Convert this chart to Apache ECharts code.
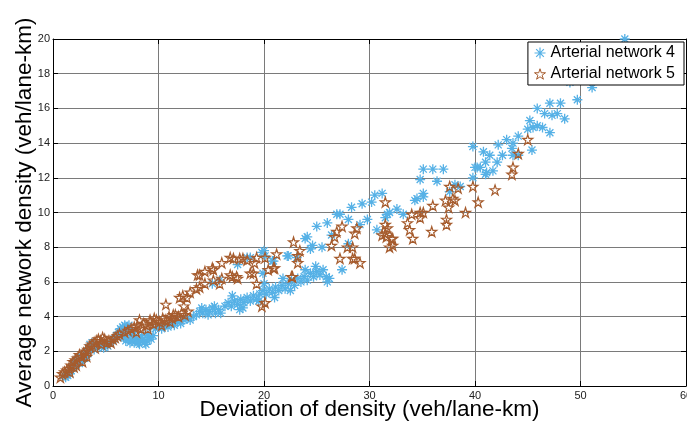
<!DOCTYPE html>
<html>
<head>
<meta charset="utf-8">
<script src="https://cdn.jsdelivr.net/npm/echarts@6/dist/echarts.min.js"></script>
<style>
  html, body { margin: 0; padding: 0; background: #fff; }
  #chart { width: 687px; height: 423px; }
</style>
</head>
<body>
<div id="chart"></div>
<script>
// tick values
const xTicks = [0, 10, 20, 30, 40, 50, 60]
const yTicks = [0, 2, 4, 6, 8, 10, 12, 14, 16, 18, 20]

const seriesNames = ['Arterial network 4', 'Arterial network 5']

// Arterial network 4 (blue asterisks), [deviation, density]
const network4 = [
  [1.1,0.6],[1.2,0.5],[1.3,0.7],[1.4,0.6],[1.5,0.8],[1.6,0.7],[1.7,0.9],[1.8,1.1],[1.9,1.0],[2.0,1.3],
  [2.1,1.2],[2.2,1.5],[2.3,1.4],[2.4,1.6],[2.5,1.3],[2.6,1.5],[2.7,1.7],[2.8,1.6],[2.9,1.8],[3.0,1.6],
  [3.1,1.9],[3.2,1.7],[3.3,2.0],[3.4,2.2],[3.5,2.4],[3.6,2.2],[3.7,2.5],[3.8,2.3],[3.9,2.1],[4.0,2.3],
  [4.2,2.2],[4.4,2.4],[4.6,2.3],[4.8,2.2],[5.0,2.4],[5.2,2.3],[5.4,2.5],[5.6,2.6],[5.8,2.7],[6.0,2.9],
  [6.2,3.1],[6.4,3.3],[6.6,3.4],[6.8,3.5],[7.0,3.3],[7.2,3.5],[6.5,3.0],[6.7,2.8],[6.9,2.6],[7.1,2.7],
  [7.3,2.5],[7.5,2.6],[7.7,2.5],[7.9,2.7],[8.1,2.5],[8.3,2.6],[8.5,2.7],[8.7,2.5],[8.9,2.6],[9.1,2.8],
  [9.3,2.7],[9.5,2.9],[7.4,2.9],[7.8,2.9],[8.4,2.9],[9.0,3.0],[6.8,3.1],[7.6,3.1],[8.2,2.4],[8.8,2.4],
  [9.7,3.3],[10.0,3.4],[10.3,3.3],[10.6,3.5],[10.9,3.4],[11.2,3.6],[11.5,3.5],[11.8,3.7],[12.1,3.6],[12.4,3.8],
  [12.7,3.9],[13.0,3.8],[13.3,4.0],[13.6,4.1],[13.9,4.3],[14.2,4.2],[14.5,4.4],[14.8,4.3],[15.1,4.5],[15.4,4.2],
  [15.7,4.4],[14.1,4.5],[14.7,4.1],[15.3,4.6],[15.9,4.2],
  [16.3,4.6],[16.6,4.8],[16.9,4.6],[17.2,4.9],[17.5,4.7],[17.8,5.0],[18.1,4.8],[18.4,5.1],[18.7,4.9],[19.0,5.2],
  [19.3,5.0],[19.6,5.3],[19.9,5.5],[20.2,5.3],[20.5,5.6],[20.8,5.4],[21.1,5.7],[21.4,5.5],[21.7,5.8],[22.0,5.6],
  [22.3,5.9],[22.6,6.1],[22.9,5.8],[23.2,6.2],[23.5,6.0],[23.8,6.3],[24.1,6.1],[24.4,6.5],[24.7,6.3],[25.0,6.6],
  [25.3,6.4],[25.6,6.7],[25.9,6.3],[26.2,6.2],[17.0,5.2],[18.0,4.5],[19.5,4.9],[21.0,5.1],[22.5,5.5],[23.9,6.7],
  [24.9,6.9],[26.0,6.0],[17.7,4.4],[20.0,5.9],[21.8,6.2],
  [15.1,5.9],[15.8,6.1],[17.5,7.0],[18.4,7.4],[18.7,7.4],[19.8,7.7],[20.0,7.8],[19.9,6.5],[20.8,7.2],[20.9,7.2],
  [22.2,7.5],[22.3,7.5],[23.1,7.4],[23.9,8.5],[24.1,8.6],[24.4,7.9],[24.6,8.1],[25.5,8.0],[25.0,9.2],[26.0,9.4],
  [26.9,9.9],[27.2,9.9],[28.0,9.6],[26.4,8.7],[28.3,10.3],[29.3,10.5],[29.8,9.6],[29.1,9.3],[28.0,8.2],[30.2,10.6],
  [30.5,11.0],[31.2,11.1],[30.7,9.0],[31.7,9.9],[31.9,10.0],[32.6,10.2],[33.2,9.9],[34.3,10.7],[27.4,6.7],[34.5,10.8],
  [35.1,10.9],[34.8,11.9],[35.1,12.5],[36.0,12.5],[37.0,12.5],[36.4,11.8],[37.6,11.2],[38.1,11.6],[38.6,11.5],[35.1,11.1],
  [31.5,9.7],[20.1,7.5],
  [39.8,13.8],[40.0,12.6],[40.8,13.5],[41.0,12.9],[41.1,12.3],[40.5,12.6],[41.4,13.3],[41.7,12.4],[42.2,13.9],[42.6,13.3],
  [42.1,12.9],[41.0,12.2],[43.0,14.2],[43.6,14.0],[44.1,14.4],[43.6,13.3],[43.5,13.7],[45.0,14.8],[45.5,14.9],[45.2,15.3],
  [45.9,15.0],[46.4,14.9],[47.1,14.6],[45.4,13.6],[45.9,16.0],[46.6,15.7],[47.1,16.3],[47.3,15.6],[48.1,16.3],[47.8,15.7],
  [48.5,15.4],[49.7,16.5],[44.1,13.3],[39.8,12.0],[51.1,17.2],[49.0,17.5],[54.2,20.0],[40.2,12.6]
]

// Arterial network 5 (brown stars)
const network5 = [
  [0.7,0.5],[0.9,0.7],[1.1,0.8],[1.3,0.9],[1.5,1.0],[1.7,1.2],[1.9,1.4],[2.1,1.5],[2.3,1.6],[2.5,1.8],
  [2.7,1.7],[2.9,1.9],[3.1,2.0],[3.3,2.1],[3.5,2.3],[3.7,2.4],[3.9,2.5],[4.1,2.6],[4.3,2.7],[4.5,2.6],
  [4.7,2.8],[4.9,2.7],[5.1,2.5],[5.3,2.6],[5.5,2.5],[5.7,2.7],[5.9,2.8],[6.1,2.9],[6.3,3.0],[2.2,1.2],
  [2.8,1.4],[3.2,1.7],[4.0,2.2],[4.6,2.4],[1.6,0.8],[2.0,1.1],
  [6.8,3.1],[7.1,3.2],[7.4,3.3],[7.7,3.4],[8.0,3.5],[8.3,3.3],[8.6,3.6],[8.9,3.5],[9.2,3.7],[9.5,3.6],
  [9.8,3.8],[10.1,3.7],[10.4,3.9],[10.7,3.8],[11.0,4.0],[11.3,3.9],[11.6,4.1],[11.9,4.0],[12.2,4.2],[12.5,4.1],
  [12.8,4.3],[10.7,4.7],[8.2,3.8],[9.0,3.3],[7.9,3.1],[9.6,3.9],[10.3,3.5],[11.1,3.7],[11.4,4.1],[9.2,3.8],
  [12.0,5.1],[12.3,5.2],[12.7,5.1],[13.0,5.4],[13.6,5.6],[13.9,5.7],[14.4,5.9],[15.2,6.1],[15.8,5.9],[16.0,6.2],
  [16.8,6.4],[17.0,6.3],[17.5,6.2],[18.7,6.5],[19.3,5.9],[13.7,6.4],[14.4,6.6],[15.1,6.8],[16.0,7.1],[16.8,7.4],
  [17.7,7.35],[18.4,7.25],[19.3,7.4],[17.1,7.35],[18.0,7.35],[19.1,7.1],[17.4,6.3],[19.0,6.5],[13.9,6.4],[15.2,6.7],
  [12.4,4.6],[20.1,4.8],[19.8,4.6],
  [20.4,6.7],[20.9,6.8],[21.2,7.6],[22.7,6.3],[22.8,8.3],[23.4,7.8],[23.2,7.5],[23.2,7.1],[20.1,7.4],[21.0,6.8],
  [22.6,6.3],[26.9,8.9],[26.7,8.6],[27.2,7.35],[28.6,7.35],[29.1,7.1],[27.9,8.0],[28.6,8.8],[28.8,9.1],[26.4,8.1],
  [27.4,9.2],[28.4,8.0],[28.4,7.35],[31.5,10.6],[31.5,9.3],[31.5,8.8],[31.6,8.6],[31.9,8.0],[32.2,8.5],[31.7,9.1],
  [31.2,8.7],[32.1,8.5],[32.2,8.1],[33.6,9.4],[33.8,9.0],[34.1,8.5],[34.0,9.9],[34.8,10.0],[35.1,10.0],[34.8,9.7],
  [35.9,8.9],[36.0,10.4],[37.2,10.7],[37.5,10.3],[38.1,10.7],[37.3,9.6],[37.3,9.3],[37.6,11.5],[38.4,11.4],[39.1,10.0],
  [39.8,11.5],[40.3,10.6],[41.9,11.3],[44.1,13.4],[43.6,12.6],[43.5,12.2],[45.0,14.2],[37.9,10.8]
]

const blue = '#56B1E6'
const brown = '#A65C2E'
const font = 'Liberation Sans, Arial, sans-serif'

const asterisk = 'path://M5 0L5 10M0 5L10 5M1.5 1.5L8.5 8.5M8.5 1.5L1.5 8.5'
const star = 'path://M10 0L12.25 6.91L19.51 6.91L13.63 11.18L15.88 18.09L10 13.82L4.12 18.09L6.37 11.18L0.49 6.91L7.75 6.91Z'

const chart = echarts.init(document.getElementById('chart'))

const gridLine = { show: true, lineStyle: { color: '#7a7a7a', width: 1 } }
const blackLine = { show: true, onZero: false, lineStyle: { color: '#000', width: 1 } }
const tickIn = { show: true, inside: true, length: 5, lineStyle: { color: '#000' } }

chart.setOption({
  animation: false,
  backgroundColor: '#fff',
  textStyle: { fontFamily: font },
  grid: { left: 53, right: 1, top: 39, bottom: 37, containLabel: false, outerBoundsMode: 'none' },
  legend: {
    orient: 'vertical',
    right: 3,
    top: 42,
    backgroundColor: '#fff',
    borderColor: '#000',
    borderWidth: 1,
    borderRadius: 0,
    padding: [3, 9, 3, 6],
    itemGap: 5,
    itemWidth: 11,
    itemHeight: 11,
    textStyle: { fontSize: 16, color: '#000', fontFamily: font },
    data: [
      { name: seriesNames[0], itemStyle: { color: 'rgba(0,0,0,0)', borderColor: blue, borderWidth: 1.2 } },
      { name: seriesNames[1], itemStyle: { color: 'rgba(0,0,0,0)', borderColor: brown, borderWidth: 1 } }
    ]
  },
  xAxis: [{
    type: 'value',
    min: xTicks[0],
    max: xTicks[xTicks.length - 1],
    interval: 10,
    name: 'Deviation of density (veh/lane-km)',
    nameLocation: 'middle',
    nameGap: 12,
    nameMoveOverlap: false,
    nameTextStyle: { fontSize: 22.5, color: '#000', fontFamily: font },
    axisLine: blackLine,
    axisTick: tickIn,
    axisLabel: { fontSize: 11, color: '#222', margin: 4, fontFamily: font },
    splitLine: gridLine
  }, {
    type: 'value',
    position: 'top',
    min: xTicks[0],
    max: xTicks[xTicks.length - 1],
    interval: 10,
    axisLine: blackLine,
    axisTick: tickIn,
    axisLabel: { show: false },
    splitLine: { show: false }
  }],
  yAxis: [{
    type: 'value',
    min: yTicks[0],
    max: yTicks[yTicks.length - 1],
    interval: 2,
    name: 'Average network density (veh/lane-km)',
    nameLocation: 'middle',
    nameGap: 17,
    nameMoveOverlap: false,
    nameTextStyle: { fontSize: 22.5, color: '#000', fontFamily: font },
    axisLine: blackLine,
    axisTick: tickIn,
    axisLabel: { fontSize: 11, color: '#222', margin: 3, fontFamily: font },
    splitLine: gridLine
  }, {
    type: 'value',
    position: 'right',
    min: yTicks[0],
    max: yTicks[yTicks.length - 1],
    interval: 2,
    axisLine: blackLine,
    axisTick: tickIn,
    axisLabel: { show: false },
    splitLine: { show: false }
  }],
  series: [{
    name: seriesNames[0],
    type: 'scatter',
    data: network4,
    symbol: asterisk,
    symbolSize: 10,
    itemStyle: { color: 'rgba(0,0,0,0)', borderColor: blue, borderWidth: 1.3, opacity: 1 },
    emphasis: { disabled: true }
  }, {
    name: seriesNames[1],
    type: 'scatter',
    data: network5,
    symbol: star,
    symbolSize: 10,
    itemStyle: { color: 'rgba(0,0,0,0)', borderColor: brown, borderWidth: 1.2, opacity: 1 },
    emphasis: { disabled: true }
  }]
})
</script>
</body>
</html>
